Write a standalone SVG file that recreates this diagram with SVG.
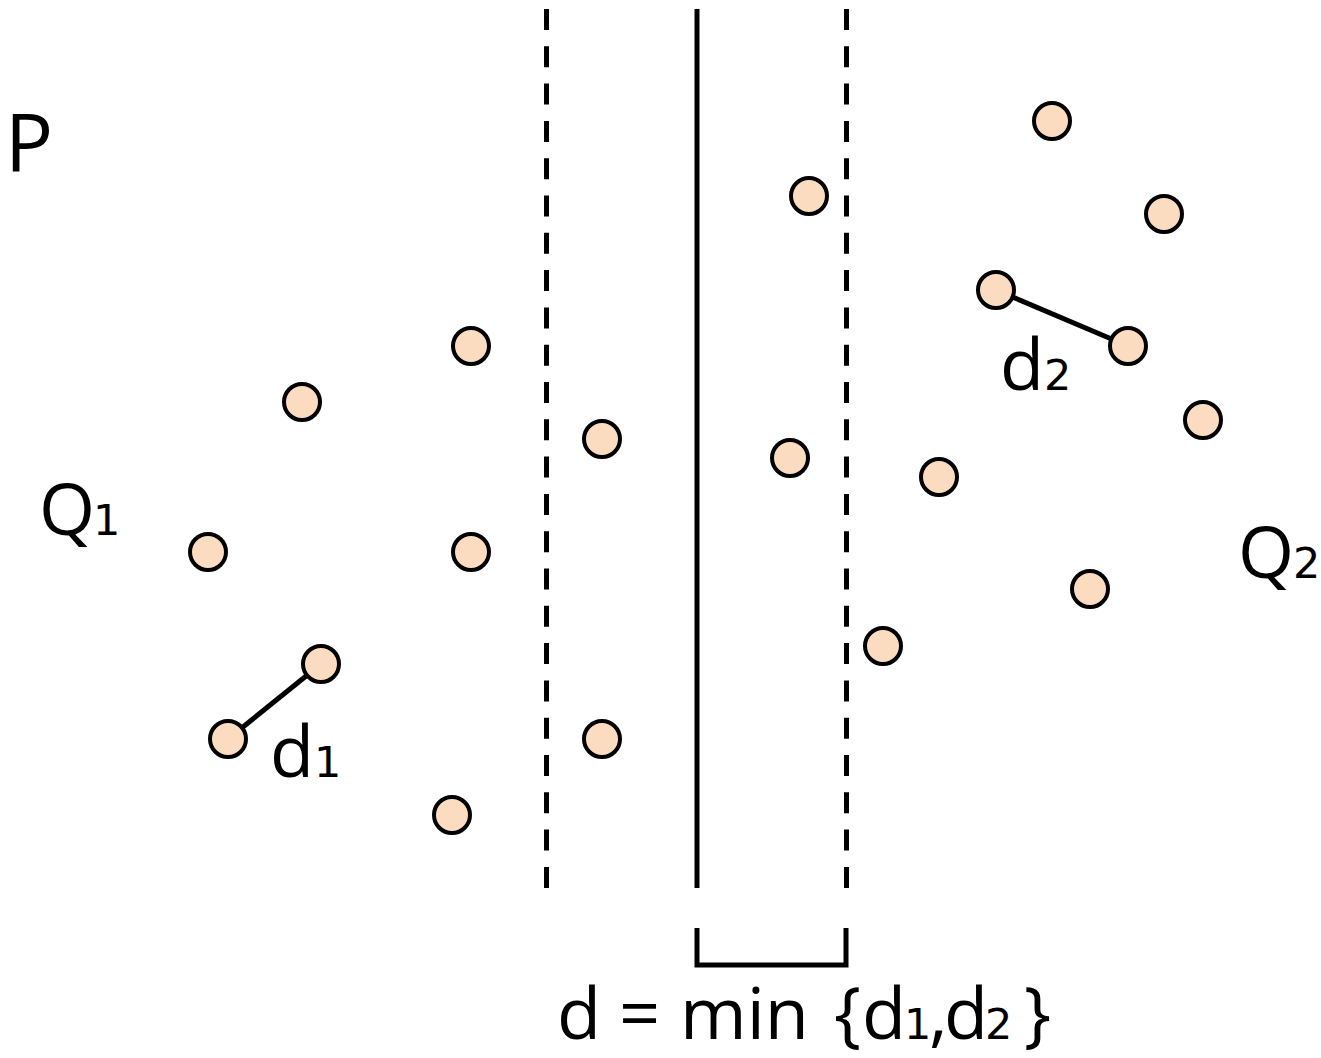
<svg xmlns="http://www.w3.org/2000/svg" width="1321" height="1058" viewBox="0 0 1321 1058">
<style>
.pt{fill:#FCDCC1;stroke:#000;stroke-width:4}
.ln{stroke:#000;stroke-width:5;fill:none}
.dash{stroke:#000;stroke-width:5;stroke-dasharray:21 16.3;fill:none}
.t{font-family:"Open Sans","Noto Sans",sans-serif;font-size:72px;fill:#000}
.s{font-family:"DejaVu Sans","Noto Sans",sans-serif;font-size:43px;fill:#000}
</style>
<rect width="1321" height="1058" fill="#fff"/>
<g id="lines">
<line class="dash" x1="546.5" y1="9" x2="546.5" y2="888"/>
<line class="ln" x1="697" y1="9" x2="697" y2="888"/>
<line class="dash" x1="846.5" y1="9" x2="846.5" y2="888"/>
<polyline class="ln" points="697,928 697,965 846,965 846,928"/>
</g>
<g id="connectors">
<line class="ln" x1="228" y1="739" x2="321" y2="664" stroke-width="4"/>
<line class="ln" x1="996" y1="290" x2="1128" y2="346" stroke-width="4"/>
</g>
<g id="points">
<circle class="pt" cx="1052" cy="121" r="18"/>
<circle class="pt" cx="809" cy="196" r="18"/>
<circle class="pt" cx="1164" cy="214" r="18"/>
<circle class="pt" cx="996" cy="290" r="18"/>
<circle class="pt" cx="1128" cy="346" r="18"/>
<circle class="pt" cx="471" cy="346" r="18"/>
<circle class="pt" cx="302" cy="402" r="18"/>
<circle class="pt" cx="602" cy="439" r="18"/>
<circle class="pt" cx="790" cy="458" r="18"/>
<circle class="pt" cx="1203" cy="420" r="18"/>
<circle class="pt" cx="939" cy="477" r="18"/>
<circle class="pt" cx="208" cy="552" r="18"/>
<circle class="pt" cx="471" cy="552" r="18"/>
<circle class="pt" cx="1090" cy="589" r="18"/>
<circle class="pt" cx="883" cy="646" r="18"/>
<circle class="pt" cx="321" cy="664" r="18"/>
<circle class="pt" cx="228" cy="739" r="18"/>
<circle class="pt" cx="602" cy="739" r="18"/>
<circle class="pt" cx="452" cy="815" r="18"/>
</g>
<g id="labels">
<text class="t" x="5" y="172" style="font-size:80px">P</text>
<text y="535"><tspan class="t" x="39">Q</tspan><tspan class="s" x="93">1</tspan></text>
<text y="578"><tspan class="t" x="1238">Q</tspan><tspan class="s" x="1293">2</tspan></text>
<text y="777"><tspan class="t" x="270">d</tspan><tspan class="s" x="314">1</tspan></text>
<text y="390"><tspan class="t" x="1000">d</tspan><tspan class="s" x="1044">2</tspan></text>
<text y="1039"><tspan class="t" x="557">d</tspan><tspan class="t" x="619">=</tspan><tspan class="t" x="680">min</tspan><tspan class="t" x="834">{</tspan><tspan class="t" x="862">d</tspan><tspan class="s" x="904">1</tspan><tspan class="t" x="929">,</tspan><tspan class="t" x="944">d</tspan><tspan class="s" x="985">2</tspan><tspan class="t" x="1024">}</tspan></text>
</g>
</svg>
